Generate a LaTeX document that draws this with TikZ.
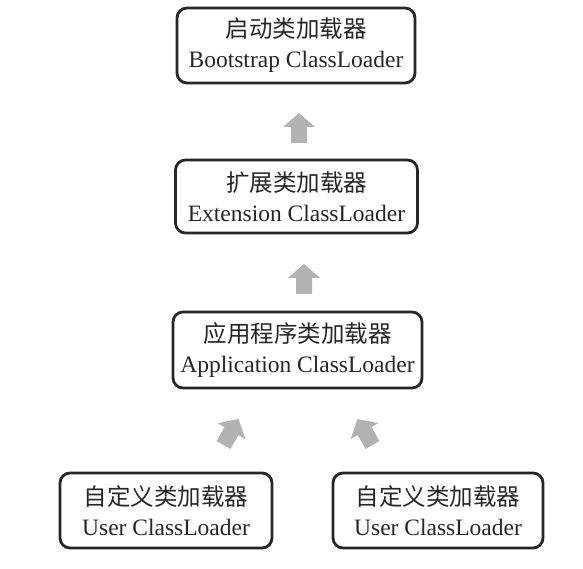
\documentclass[tikz,border=0pt]{standalone}
\usepackage{fontspec}
\setmainfont{Liberation Serif}
\newfontfamily\cjk{Noto Sans CJK SC}
\begin{document}
\begin{tikzpicture}[x=1pt,y=1pt,
  loader/.style={draw=black!85, line width=2.8pt, rounded corners=10pt, align=center,
    inner sep=0pt, minimum height=75pt, font=\fontsize{23.5}{30}\selectfont, text=black!85},
  blockarrow/.pic={\fill[black!30] (0,15) -- (16,1) -- (8,1) -- (8,-15) -- (-8,-15) -- (-8,1) -- (-16,1) -- cycle;}
]
\useasboundingbox (0,0) rectangle (583,568);
\node[loader, minimum width=238pt] (boot) at (296,522.5) {{\cjk 启动类加载器}\\Bootstrap ClassLoader};
\node[loader, minimum width=242pt, minimum height=73pt] (ext) at (296.5,371.5) {{\cjk 扩展类加载器}\\Extension ClassLoader};
\node[loader, minimum width=249pt, minimum height=76pt] (app) at (297.5,218) {{\cjk 应用程序类加载器}\\Application ClassLoader};
\node[loader, minimum width=212pt] (user1) at (166,57.5) {{\cjk 自定义类加载器}\\User ClassLoader};
\node[loader, minimum width=210pt] (user2) at (438,57.5) {{\cjk 自定义类加载器}\\User ClassLoader};
\pic at (299,440) {blockarrow};
\pic at (304,289) {blockarrow};
\pic[rotate=-30] at (231,136) {blockarrow};
\pic[rotate=30] at (365,136) {blockarrow};
\end{tikzpicture}
\end{document}
